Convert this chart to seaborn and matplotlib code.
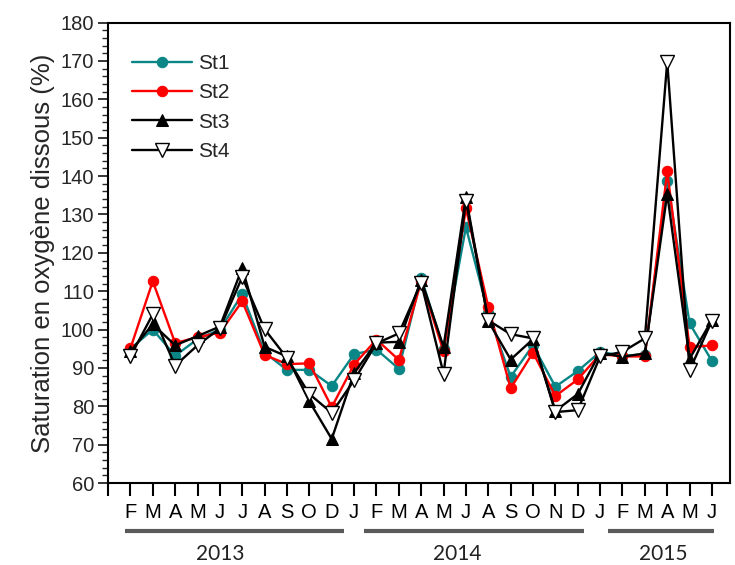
import numpy as np
import pandas as pd
import matplotlib
matplotlib.use("Agg")
import matplotlib.pyplot as plt
import matplotlib.transforms as mtransforms
from matplotlib.ticker import MultipleLocator
import seaborn as sns

months = ["F", "M", "A", "M", "J", "J", "A", "S", "O", "D", "J",
          "F", "M", "A", "M", "J", "A", "S", "O", "N", "D", "J",
          "F", "M", "A", "M", "J"]

st1 = [95.0, 100.0, 93.2, 97.5, 100.0, 109.2, 94.0, 89.5, 89.5, 85.3, 93.6,
       94.8, 89.8, 113.5, 95.0, 126.7, 104.2, 87.7, 95.9, 85.1, 89.2, 94.2,
       93.2, 93.5, 138.7, 101.6, 91.8]
st2 = [95.1, 112.6, 96.5, 98.0, 99.2, 107.4, 93.4, 91.0, 91.2, 79.8, 90.9,
       97.4, 92.1, 112.6, 94.3, 131.6, 105.9, 84.7, 94.0, 82.7, 87.0, 93.6,
       93.0, 93.0, 141.2, 95.4, 95.9]
st3 = [94.3, 101.4, 95.9, 98.3, 100.8, 116.1, 95.5, 93.0, 81.3, 71.5, 88.7,
       96.6, 96.8, 113.0, 95.5, 134.6, 102.2, 92.2, 97.5, 78.8, 83.2, 94.0,
       92.9, 93.8, 135.4, 92.4, 102.5]
st4 = [93.0, 104.0, 90.6, 95.9, 100.3, 113.7, 100.1, 92.6, 83.2, 78.3, 86.8,
       96.4, 99.0, 112.2, 88.5, 133.6, 102.4, 98.8, 97.7, 78.5, 79.0, 93.0,
       94.2, 97.7, 169.8, 89.4, 102.3]

years = ["2013", "2014", "2015"]
year_spans = [(0.75, 10.55), (11.45, 21.3), (22.35, 27.1)]
year_label_x = [5.0, 15.6, 24.8]

x = np.arange(1, len(months) + 1)
df = pd.DataFrame({"x": x, "St1": st1, "St2": st2, "St3": st3, "St4": st4})

sns.set_style("ticks")
plt.rcParams["font.family"] = ["Liberation Sans", "DejaVu Sans"]

fig = plt.figure(figsize=(7.35, 5.65), dpi=100)
ax = fig.add_axes([0.147, 0.145, 0.846, 0.815])

teal = "#0a8686"
sns.lineplot(data=df, x="x", y="St1", ax=ax, color=teal, marker="o", markersize=7.5,
             markeredgecolor=teal, markerfacecolor=teal, linewidth=1.7, label="St1")
sns.lineplot(data=df, x="x", y="St2", ax=ax, color="#ff0000", marker="o", markersize=7.5,
             markeredgecolor="#ff0000", markerfacecolor="#ff0000", linewidth=1.7, label="St2")
sns.lineplot(data=df, x="x", y="St3", ax=ax, color="black", marker="^", markersize=8.5,
             markeredgecolor="black", markerfacecolor="black", linewidth=1.7, label="St3")
sns.lineplot(data=df, x="x", y="St4", ax=ax, color="black", marker="v", markersize=9.5,
             markeredgecolor="black", markerfacecolor="white", markeredgewidth=1.0,
             linewidth=1.7, label="St4")

ax.set_xlim(0, 27.8)
ax.set_ylim(60, 180)
ax.yaxis.set_major_locator(MultipleLocator(10))
ax.yaxis.set_minor_locator(MultipleLocator(2))
ax.set_xticks(x)
ax.set_xticks([0], minor=True)
ax.set_xticklabels(months)
ax.tick_params(axis="x", which="both", direction="out", length=9, width=1.5,
               labelsize=14.5, pad=5, colors="black")
ax.tick_params(axis="y", which="major", direction="out", length=7, width=1.3,
               labelsize=14.5, pad=3)
ax.tick_params(axis="y", which="minor", direction="out", length=4, width=1.0)
for s in ax.spines.values():
    s.set_linewidth(1.5)
    s.set_color("black")
ax.set_xlabel("")
ax.set_ylabel("Saturation en oxygène dissous (%)", fontsize=18.5, labelpad=4)

trans = mtransforms.blended_transform_factory(ax.transData, ax.transAxes)
for yr, (a, b), tx in zip(years, year_spans, year_label_x):
    ax.plot([a, b], [-0.104, -0.104], transform=trans, color="#5a5a5a",
            linewidth=3, clip_on=False, solid_capstyle="butt")
    ax.text(tx, -0.154, yr, transform=trans, ha="center", va="center",
            fontsize=15, family=["Lato", "DejaVu Sans"], color="#222222")

leg = ax.legend(loc="upper left", bbox_to_anchor=(0.025, 0.95), frameon=False,
                fontsize=15, handlelength=2.9, labelspacing=0.5, borderaxespad=0,
                handletextpad=0.25)

fig.savefig("out.png", dpi=100)
